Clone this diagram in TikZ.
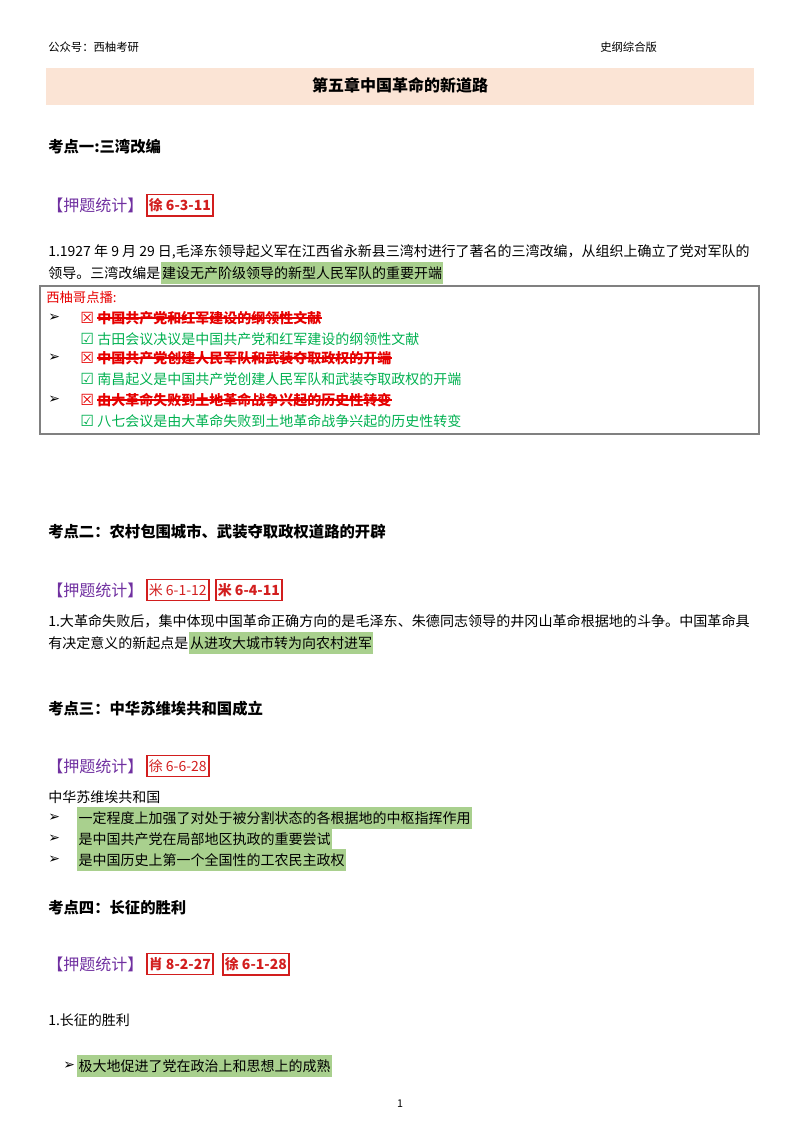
\documentclass[tikz,border=0pt]{standalone}
\usepackage{fontspec}
\usepackage{graphicx}
\setmainfont{Noto Sans CJK SC}
\newfontfamily\sym{DejaVu Sans}
\definecolor{hl}{RGB}{169,208,142}
\definecolor{band}{RGB}{251,228,213}
\definecolor{pur}{RGB}{112,48,160}
\definecolor{rd}{RGB}{230,0,0}
\definecolor{gn}{RGB}{0,176,80}
\definecolor{bx}{RGB}{210,30,30}
\begin{document}
\begin{tikzpicture}[x=0.75pt,y=-0.75pt,
  txt/.style={anchor=west,inner sep=0pt,font=\fontsize{10.5}{13}\selectfont},
  sm/.style={anchor=west,inner sep=0pt,font=\fontsize{8.5}{10}\selectfont},
  hd/.style={anchor=west,inner sep=0pt,font=\fontsize{11.5}{13}\selectfont\bfseries},
  tj/.style={anchor=west,inner sep=0pt,text=pur,font=\fontsize{12}{13}\selectfont},
  tag/.style={draw=bx,line width=1.2pt,text=bx,inner xsep=1.5pt,inner ysep=3pt,anchor=west,font=\fontsize{10.5}{13}\selectfont},
  btag/.style={tag,font=\fontsize{10.5}{13}\selectfont\bfseries},
  hlt/.style={fill=hl,inner xsep=1pt,inner ysep=3pt,anchor=west,font=\fontsize{10.5}{13}\selectfont},
  ar/.style={anchor=west,inner sep=0pt,font=\sym\fontsize{10.5}{12}\selectfont\bfseries},
  cb/.style={anchor=west,inner sep=0pt,font=\sym\fontsize{11.5}{12}\selectfont},
  no/.style={anchor=west,inner sep=0pt,text=rd,font=\fontsize{10.5}{13}\selectfont\bfseries},
  ok/.style={anchor=west,inner sep=0pt,text=gn,font=\fontsize{10.5}{13}\selectfont},
  strike/.style={draw=rd,line width=0.9pt}]
\useasboundingbox (0,0) rectangle (800,1132);
\node[sm] (h1) at (48,47) {公众号：西柚考研};
\node[sm] (h2) at (600,47) {史纲综合版};
\fill[band] (46,68) rectangle (754,105);
\node[inner sep=0pt,font=\fontsize{12}{14}\selectfont\bfseries] (title) at (400,85) {第五章中国革命的新道路};
% section 1
\node[hd] (k1) at (48,147) {考点一:三湾改编};
\node[tj] (t1) at (47,205) {【押题统计】};
\node[btag] (b1) at (146,205) {徐 6-3-11};
\node[txt] (p1a) at (48,252) {\resizebox{526pt}{!}{1.1927 年 9 月 29 日,毛泽东领导起义军在江西省永新县三湾村进行了著名的三湾改编，从组织上确立了党对军队的}};
\node[txt] (p1b) at (48,273) {领导。三湾改编是};
\node[hlt] (g1) at (p1b.east) {建设无产阶级领导的新型人民军队的重要开端};
\draw[gray,line width=0.8pt] (40,286) rectangle (759,434);
\node[anchor=west,inner sep=0pt,text=rd,font=\fontsize{10}{12}\selectfont] (xy) at (46,297) {西柚哥点播:};
\foreach \y/\t/\c [count=\i] in {318/中国共产党和红军建设的纲领性文献/古田会议决议是中国共产党和红军建设的纲领性文献,
  358/中国共产党创建人民军队和武装夺取政权的开端/南昌起义是中国共产党创建人民军队和武装夺取政权的开端,
  400/由大革命失败到土地革命战争兴起的历史性转变/八七会议是由大革命失败到土地革命战争兴起的历史性转变}{
  \node[ar] (a\i) at (48,\y) {➢};
  \node[cb,text=rd] (x\i) at (80,\y) {☒};
  \node[no] (n\i) at (97,\y) {\t};
  \draw[strike] (n\i.west) -- (n\i.east);
  \node[cb,text=gn] (v\i) at (80,\y+21) {☑};
  \node[ok] (o\i) at (97,\y+21) {\c};
}
% section 2
\node[hd] (k2) at (48,532) {考点二：农村包围城市、武装夺取政权道路的开辟};
\node[tj] (t2) at (47,590) {【押题统计】};
\node[tag] (b2) at (146,590) {米 6-1-12};
\node[btag] (b3) at (215,590) {米 6-4-11};
\node[txt] (p2a) at (48,621) {\resizebox{526pt}{!}{1.大革命失败后，集中体现中国革命正确方向的是毛泽东、朱德同志领导的井冈山革命根据地的斗争。中国革命具}};
\node[txt] (p2b) at (48,643) {有决定意义的新起点是};
\node[hlt] (g2) at (p2b.east) {从进攻大城市转为向农村进军};
% section 3
\node[hd] (k3) at (48,709) {考点三：中华苏维埃共和国成立};
\node[tj] (t3) at (47,766) {【押题统计】};
\node[tag] (b4) at (146,766) {徐 6-6-28};
\node[txt] (p3) at (48,797) {中华苏维埃共和国};
\foreach \y/\t [count=\i] in {818/一定程度上加强了对处于被分割状态的各根据地的中枢指挥作用,839/是中国共产党在局部地区执政的重要尝试,860/是中国历史上第一个全国性的工农民主政权}{
  \node[ar] (c\i) at (48,\y) {➢};
  \node[hlt] (s\i) at (77,\y) {\t};
}
% section 4
\node[hd] (k4) at (48,908) {考点四：长征的胜利};
\node[tj] (t4) at (47,964) {【押题统计】};
\node[btag] (b5) at (146,964) {肖 8-2-27};
\node[btag] (b6) at (222,964) {徐 6-1-28};
\node[txt] (p4) at (48,1020) {1.长征的胜利};
\node[ar] (c4) at (63,1066) {➢};
\node[hlt] (s4) at (77,1066) {极大地促进了党在政治上和思想上的成熟};
\node[inner sep=0pt,font=\fontsize{8}{10}\selectfont] (pg) at (400,1104) {1};
\end{tikzpicture}
\end{document}
